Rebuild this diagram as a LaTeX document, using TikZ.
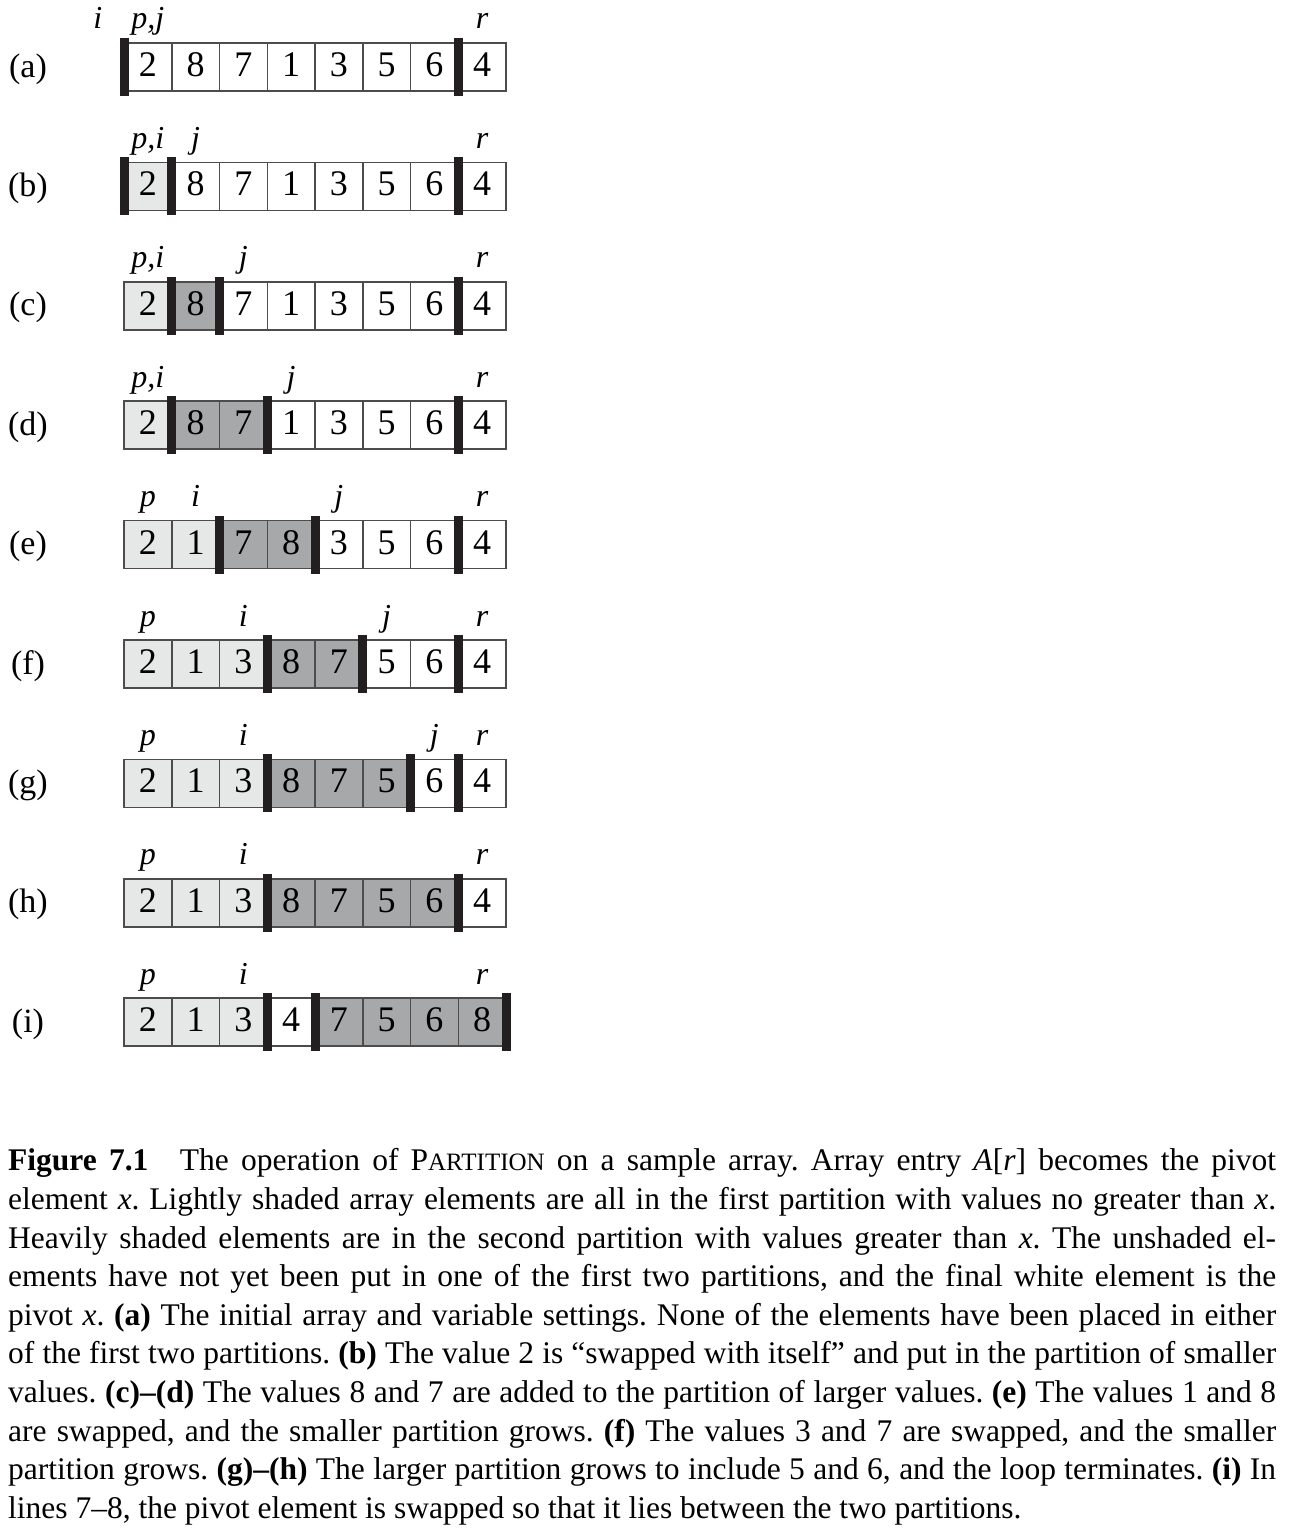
\documentclass[tikz,border=0pt]{standalone}
\usepackage{fontspec}
\setmainfont{Liberation Serif}
\usetikzlibrary{matrix}
\definecolor{litegray}{HTML}{E6E7E7}
\definecolor{heavygray}{HTML}{A7A8AA}
\definecolor{wallcolor}{HTML}{231F20}
\tikzstyle{cell}=[draw=black!70,line width=1.5pt,minimum width=47.75pt,minimum height=48pt,
  inner sep=0pt,outer sep=0pt,text height=24pt,text depth=5pt,font=\fontsize{36}{36}\selectfont]
\tikzstyle{lite}=[fill=litegray]
\tikzstyle{heavy}=[fill=heavygray]
\tikzstyle{arr}=[matrix of nodes,nodes={cell},column sep=-1.5pt,inner sep=0pt,outer sep=0pt]
\tikzstyle{wall}=[line width=9pt,draw=wallcolor]
\tikzstyle{ptr}=[anchor=base,inner sep=0pt,font=\fontsize{32}{32}\selectfont\itshape]
\tikzstyle{tag}=[inner sep=0pt,font=\fontsize{34}{34}\selectfont]
\tikzstyle{caption}=[anchor=north west,inner sep=0pt,text width=1268pt,align=justify,
  font=\fontsize{31.5}{38.6}\selectfont\frenchspacing]
\newcommand\sepbar[1]{\draw[wall] ([yshift=5pt]#1.north west) -- ([yshift=-5pt]#1.south west);}
\newcommand\sepbarend[1]{\draw[wall] ([yshift=5pt]#1.north east) -- ([yshift=-5pt]#1.south east);}
\newcommand\smc[1]{{\fontsize{25}{25}\selectfont #1}}

\begin{document}
\begin{tikzpicture}[x=1pt,y=-1pt]
	\useasboundingbox (0,0) rectangle (1290,1530);
	\foreach \t/\y in {a/67,b/186.4,c/305.8,d/425.2,e/544.6,f/664,g/783.4,h/902.8,i/1022.2}
	  \node[tag] (tag-\t) at (28,\y+2) {(\t)};
	% the nine steps
	\matrix (a) [arr] at (315,67)     { 2 & 8 & 7 & 1 & 3 & 5 & 6 & 4 \\ };
	\matrix (b) [arr] at (315,186.4)  { |[lite]|2 & 8 & 7 & 1 & 3 & 5 & 6 & 4 \\ };
	\matrix (c) [arr] at (315,305.8)  { |[lite]|2 & |[heavy]|8 & 7 & 1 & 3 & 5 & 6 & 4 \\ };
	\matrix (d) [arr] at (315,425.2)  { |[lite]|2 & |[heavy]|8 & |[heavy]|7 & 1 & 3 & 5 & 6 & 4 \\ };
	\matrix (e) [arr] at (315,544.6)  { |[lite]|2 & |[lite]|1 & |[heavy]|7 & |[heavy]|8 & 3 & 5 & 6 & 4 \\ };
	\matrix (f) [arr] at (315,664)    { |[lite]|2 & |[lite]|1 & |[lite]|3 & |[heavy]|8 & |[heavy]|7 & 5 & 6 & 4 \\ };
	\matrix (g) [arr] at (315,783.4)  { |[lite]|2 & |[lite]|1 & |[lite]|3 & |[heavy]|8 & |[heavy]|7 & |[heavy]|5 & 6 & 4 \\ };
	\matrix (h) [arr] at (315,902.8)  { |[lite]|2 & |[lite]|1 & |[lite]|3 & |[heavy]|8 & |[heavy]|7 & |[heavy]|5 & |[heavy]|6 & 4 \\ };
	\matrix (i) [arr] at (315,1022.2) { |[lite]|2 & |[lite]|1 & |[lite]|3 & 4 & |[heavy]|7 & |[heavy]|5 & |[heavy]|6 & |[heavy]|8 \\ };
	% partition walls
	\sepbar{a-1-1} \sepbar{a-1-8}
	\sepbar{b-1-1} \sepbar{b-1-2} \sepbar{b-1-8}
	\sepbar{c-1-2} \sepbar{c-1-3} \sepbar{c-1-8}
	\sepbar{d-1-2} \sepbar{d-1-4} \sepbar{d-1-8}
	\sepbar{e-1-3} \sepbar{e-1-5} \sepbar{e-1-8}
	\sepbar{f-1-4} \sepbar{f-1-6} \sepbar{f-1-8}
	\sepbar{g-1-4} \sepbar{g-1-7} \sepbar{g-1-8}
	\sepbar{h-1-4} \sepbar{h-1-8}
	\sepbar{i-1-4} \sepbar{i-1-5} \sepbarend{i-1-8}
	% indices
	\node[ptr] (a-i) at ([xshift=-50pt,yshift=14pt]a-1-1.north) {i};
	\node[ptr] (a-p) at ([yshift=14pt]a-1-1.north) {p,j};
	\node[ptr] (a-r) at ([yshift=14pt]a-1-8.north) {r};
	\node[ptr] (b-p) at ([yshift=14pt]b-1-1.north) {p,i};
	\node[ptr] (b-j) at ([yshift=14pt]b-1-2.north) {j};
	\node[ptr] (b-r) at ([yshift=14pt]b-1-8.north) {r};
	\node[ptr] (c-p) at ([yshift=14pt]c-1-1.north) {p,i};
	\node[ptr] (c-j) at ([yshift=14pt]c-1-3.north) {j};
	\node[ptr] (c-r) at ([yshift=14pt]c-1-8.north) {r};
	\node[ptr] (d-p) at ([yshift=14pt]d-1-1.north) {p,i};
	\node[ptr] (d-j) at ([yshift=14pt]d-1-4.north) {j};
	\node[ptr] (d-r) at ([yshift=14pt]d-1-8.north) {r};
	\node[ptr] (e-p) at ([yshift=14pt]e-1-1.north) {p};
	\node[ptr] (e-i) at ([yshift=14pt]e-1-2.north) {i};
	\node[ptr] (e-j) at ([yshift=14pt]e-1-5.north) {j};
	\node[ptr] (e-r) at ([yshift=14pt]e-1-8.north) {r};
	\node[ptr] (f-p) at ([yshift=14pt]f-1-1.north) {p};
	\node[ptr] (f-i) at ([yshift=14pt]f-1-3.north) {i};
	\node[ptr] (f-j) at ([yshift=14pt]f-1-6.north) {j};
	\node[ptr] (f-r) at ([yshift=14pt]f-1-8.north) {r};
	\node[ptr] (g-p) at ([yshift=14pt]g-1-1.north) {p};
	\node[ptr] (g-i) at ([yshift=14pt]g-1-3.north) {i};
	\node[ptr] (g-j) at ([yshift=14pt]g-1-7.north) {j};
	\node[ptr] (g-r) at ([yshift=14pt]g-1-8.north) {r};
	\node[ptr] (h-p) at ([yshift=14pt]h-1-1.north) {p};
	\node[ptr] (h-i) at ([yshift=14pt]h-1-3.north) {i};
	\node[ptr] (h-r) at ([yshift=14pt]h-1-8.north) {r};
	\node[ptr] (i-p) at ([yshift=14pt]i-1-1.north) {p};
	\node[ptr] (i-i) at ([yshift=14pt]i-1-3.north) {i};
	\node[ptr] (i-r) at ([yshift=14pt]i-1-8.north) {r};
	% caption
	\node[caption] (cap) at (8,1148.5) {\textbf{Figure 7.1}\quad The operation of P\smc{ARTITION} on a sample array. Array entry \textit{A}[\textit{r}] becomes the pivot\linebreak
	element \textit{x}. Lightly shaded array elements are all in the first partition with values no greater than \textit{x}.\linebreak
	Heavily shaded elements are in the second partition with values greater than \textit{x}. The unshaded el-\linebreak
	ements have not yet been put in one of the first two partitions, and the final white element is the\linebreak
	pivot \textit{x}. \textbf{(a)} The initial array and variable settings. None of the elements have been placed in either\linebreak
	of the first two partitions. \textbf{(b)} The value 2 is “swapped with itself” and put in the partition of smaller\linebreak
	values. \textbf{(c)--(d)} The values 8 and 7 are added to the partition of larger values. \textbf{(e)} The values 1 and 8\linebreak
	are swapped, and the smaller partition grows. \textbf{(f)} The values 3 and 7 are swapped, and the smaller\linebreak
	partition grows. \textbf{(g)--(h)} The larger partition grows to include 5 and 6, and the loop terminates. \textbf{(i)} In\linebreak
	lines 7--8, the pivot element is swapped so that it lies between the two partitions.};
\end{tikzpicture}
\end{document}
